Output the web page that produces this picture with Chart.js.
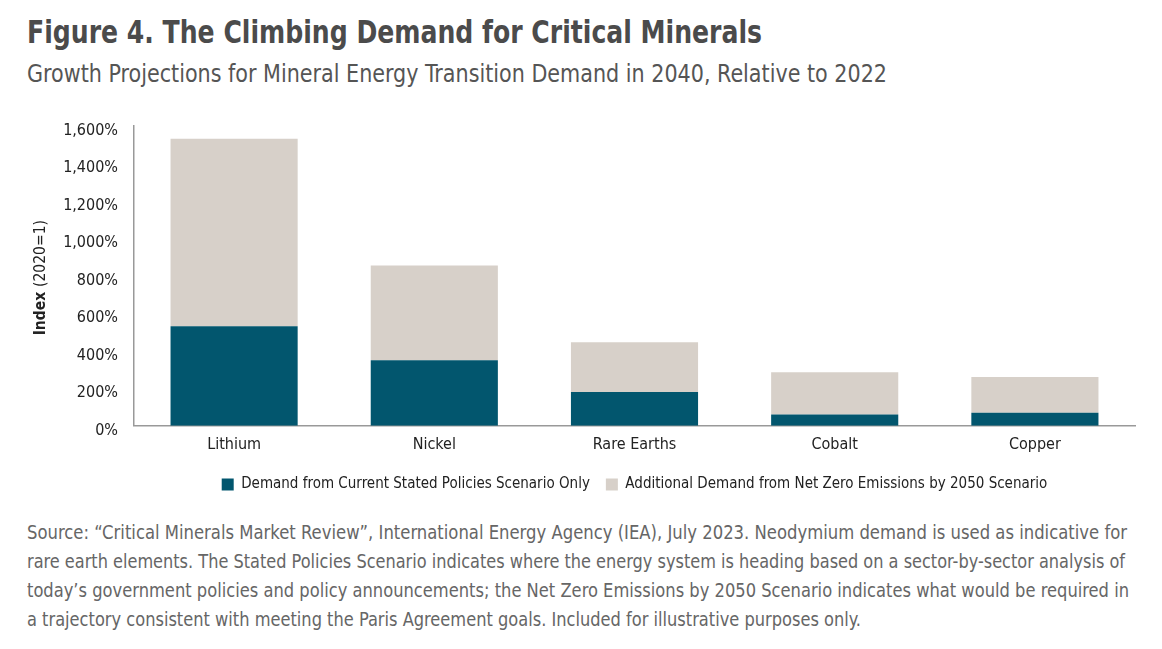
<!DOCTYPE html>
<html>
<head>
<meta charset="utf-8">
<script src="https://cdn.jsdelivr.net/npm/chart.js@4.4.1/dist/chart.umd.min.js"></script>
<style>
  body { margin: 0; background: #fff; width: 1162px; height: 649px; overflow: hidden;
         font-family: "DejaVu Sans Condensed", "DejaVu Sans", sans-serif; }
  .fit { position: absolute; left: 27px; white-space: nowrap; transform-origin: 0 0; }
  #title { top: 13px; font-size: 32px; font-weight: bold; color: #4b4b4b; }
  #subtitle { top: 59px; font-size: 25px; color: #555; }
  #wrap { position: absolute; left: 0; top: 100px; width: 1162px; height: 404px; }
  .src { font-size: 20px; line-height: 29px; color: #666; }
</style>
</head>
<body>
<div id="title" class="fit" data-w="735">Figure 4. The Climbing Demand for Critical Minerals</div>
<div id="subtitle" class="fit" data-w="860">Growth Projections for Mineral Energy Transition Demand in 2040, Relative to 2022</div>
<div id="wrap"><canvas id="chart"></canvas></div>
<div class="fit src" style="top:518px" data-w="1100">Source: “Critical Minerals Market Review”, International Energy Agency (IEA), July 2023. Neodymium demand is used as indicative for</div>
<div class="fit src" style="top:547px" data-w="1098">rare earth elements. The Stated Policies Scenario indicates where the energy system is heading based on a sector-by-sector analysis of</div>
<div class="fit src" style="top:576px" data-w="1102">today’s government policies and policy announcements; the Net Zero Emissions by 2050 Scenario indicates what would be required in</div>
<div class="fit src" style="top:605px" data-w="834">a trajectory consistent with meeting the Paris Agreement goals. Included for illustrative purposes only.</div>
<script>
// минералы и прогнозы (проценты, 2022 = 100%)
let minerals = ["Lithium", "Nickel", "Rare Earths", "Cobalt", "Copper"];
let statedPolicies = [530, 350, 180, 60, 70];
let netZeroExtra = [1000, 505, 265, 225, 190];
let yTicks = [0, 200, 400, 600, 800, 1000, 1200, 1400, 1600];

let fontFamily = '"DejaVu Sans Condensed", "DejaVu Sans", sans-serif';

// сжимаем строки текста по ширине оригинала
document.querySelectorAll('.fit').forEach(el => {
  let natural = el.getBoundingClientRect().width;
  el.style.transform = 'scaleX(' + (+el.dataset.w / natural) + ')';
});

// подпись оси Y: "Index" жирным + "(2020=1)" обычным
let yTitlePlugin = {
  id: 'yTitle',
  afterLayout(chart) {
    // легенду чуть ближе к оси
    chart.legend.top -= 2;
    chart.legend.bottom -= 2;
  },
  afterDraw(chart) {
    let ctx = chart.ctx;
    let area = chart.chartArea;
    ctx.save();
    ctx.translate(41, (area.top + area.bottom) / 2 + 2);
    ctx.rotate(-Math.PI / 2);
    ctx.textBaseline = 'middle';
    ctx.fillStyle = '#222';
    let boldFont = 'bold 15.5px ' + fontFamily;
    let normFont = '15.5px ' + fontFamily;
    ctx.font = boldFont;
    let w1 = ctx.measureText('Index ').width;
    ctx.font = normFont;
    let w2 = ctx.measureText('(2020=1)').width;
    let x0 = -(w1 + w2) / 2;
    ctx.font = boldFont;
    ctx.fillText('Index ', x0, 0);
    ctx.font = normFont;
    ctx.fillText('(2020=1)', x0 + w1, 0);
    ctx.restore();
  }
};

let chartCanvas = document.getElementById('chart');

let barChart = new Chart(chartCanvas, {
  type: 'bar',
  data: {
    labels: minerals,
    datasets: [{
      label: 'Demand from Current Stated Policies Scenario Only',
      data: statedPolicies,
      backgroundColor: '#02566e'
    }, {
      label: 'Additional Demand from Net Zero Emissions by 2050 Scenario',
      data: netZeroExtra,
      backgroundColor: '#d7d0c9'
    }]
  },
  options: {
    responsive: true,
    maintainAspectRatio: false,
    animation: false,
    layout: { padding: { left: 0, right: 27, top: 14, bottom: 0 } },
    datasets: { bar: { categoryPercentage: 0.635, barPercentage: 1.0 } },
    plugins: {
      legend: {
        position: 'bottom',
        fullSize: false,
        labels: {
          boxWidth: 12, boxHeight: 12, padding: 16,
          color: '#222',
          font: { family: fontFamily, size: 15 }
        }
      },
      tooltip: { enabled: false }
    },
    scales: {
      x: {
        stacked: true,
        grid: { display: false, drawTicks: false },
        border: { color: '#999', width: 1.5 },
        ticks: { color: '#222', padding: 9, font: { family: fontFamily, size: 16 } }
      },
      y: {
        stacked: true,
        min: 0,
        max: 1600,
        afterFit(scale) { scale.width = 134; },
        afterBuildTicks(scale) { scale.ticks = yTicks.map(v => ({ value: v })); },
        grid: { display: false, drawTicks: false },
        border: { color: '#999', width: 1.5 },
        ticks: {
          color: '#222', padding: 16, labelOffset: 5,
          font: { family: fontFamily, size: 16 },
          callback: v => v.toLocaleString('en-US') + '%'
        }
      }
    }
  },
  plugins: [yTitlePlugin]
});
</script>
</body>
</html>
